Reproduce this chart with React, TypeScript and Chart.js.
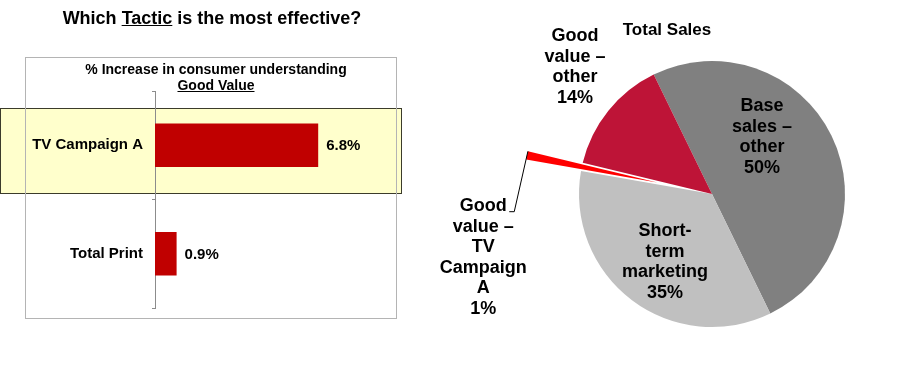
import React, { useEffect, useRef } from "react";
import { Chart, registerables } from "chart.js";
Chart.register(...registerables);

const FONT = "'Liberation Sans', Arial, Helvetica, sans-serif";

// ---- Left chart data ----
const barCategories = ["TV Campaign A", "Total Print"];
const barValues = [6.8, 0.9];
const barAxisMax = 10;
const barColor = "#C00000";

// ---- Right chart data ----
const pieCategories = ["Base sales – other", "Short-term marketing", "Good value – TV Campaign A", "Good value – other"];
const pieValues = [50, 35, 1, 14];
const pieLabelLines = [
  ["Base", "sales –", "other"],
  ["Short-", "term", "marketing"],
  ["Good", "value –", "TV", "Campaign", "A"],
  ["Good", "value –", "other"],
];
const pieColors = ["#808080", "#C0C0C0", "#FF0000", "#BE1437"];
const pieExplode = [0, 0, 56, 0];
// label anchors relative to pie centre, in units of the radius
const pieLabelAnchors = [
  { dx: 0.376, dy: -0.43 },
  { dx: -0.353, dy: 0.511 },
  { dx: -1.72, dy: 0.477 },
  { dx: -1.03, dy: -0.955 },
];
const leaderIndex = 2;

const barDecor = {
  id: "barDecor",
  beforeDraw(chart: any) {
    const { ctx, chartArea, scales } = chart;
    const y = scales.y;
    const c = y.getPixelForValue(0);
    const catH = y.getPixelForValue(1) - c;
    const top = Math.round(c - 0.34 * catH) + 0.5;
    const bot = Math.round(c + 0.44 * catH) + 0.5;
    ctx.save();
    ctx.fillStyle = "#FFFFCC";
    ctx.fillRect(0.5, top, chartArea.right + 6, bot - top);
    ctx.strokeStyle = "#3b3b2b";
    ctx.lineWidth = 1;
    ctx.strokeRect(0.5, top, chartArea.right + 6, bot - top);
    ctx.restore();
  },
  afterDatasetsDraw(chart: any) {
    const { ctx } = chart;
    const meta = chart.getDatasetMeta(0);
    ctx.save();
    ctx.fillStyle = "#000";
    ctx.font = `bold 15px ${FONT}`;
    ctx.textAlign = "left";
    ctx.textBaseline = "middle";
    meta.data.forEach((bar: any, i: number) => {
      ctx.fillText(`${barValues[i].toFixed(1)}%`, bar.x + 8, bar.y + 1);
    });
    ctx.restore();
  },
};

const pieDecor = {
  id: "pieDecor",
  beforeDatasetsDraw(chart: any) {
    const meta = chart.getDatasetMeta(0);
    meta.data.forEach((arc: any, i: number) => {
      const ex = pieExplode[i];
      if (!ex || arc.__exploded) return;
      const orig = arc.draw.bind(arc);
      arc.draw = (ctx: CanvasRenderingContext2D, area: any) => {
        const mid = (arc.startAngle + arc.endAngle) / 2;
        ctx.save();
        ctx.translate(Math.cos(mid) * ex, Math.sin(mid) * ex);
        orig(ctx, area);
        ctx.restore();
      };
      arc.__exploded = true;
    });
  },
  afterDatasetsDraw(chart: any) {
    const { ctx } = chart;
    const meta = chart.getDatasetMeta(0);
    const total = pieValues.reduce((a, b) => a + b, 0);
    const lh = 20.5;
    ctx.save();
    ctx.fillStyle = "#000";
    ctx.font = `bold 18px ${FONT}`;
    ctx.textAlign = "center";
    ctx.textBaseline = "middle";
    meta.data.forEach((arc: any, i: number) => {
      const R = arc.outerRadius;
      const lx = arc.x + pieLabelAnchors[i].dx * R;
      const ly = arc.y + pieLabelAnchors[i].dy * R;
      const lines = [...pieLabelLines[i], `${Math.round((pieValues[i] / total) * 100)}%`];
      const firstY = ly - ((lines.length - 1) / 2) * lh;
      lines.forEach((t, k) => ctx.fillText(t, lx, firstY + k * lh));
      if (i === leaderIndex) {
        const ex = pieExplode[i];
        const mid = (arc.startAngle + arc.endAngle) / 2;
        const tx = arc.x + Math.cos(mid) * ex + Math.cos(arc.endAngle) * R;
        const ty = arc.y + Math.sin(mid) * ex + Math.sin(arc.endAngle) * R;
        ctx.strokeStyle = "#000";
        ctx.lineWidth = 1;
        ctx.beginPath();
        ctx.moveTo(tx, ty);
        ctx.lineTo(lx + 31, firstY + 5.5);
        ctx.lineTo(lx + 26, firstY + 5.5);
        ctx.stroke();
      }
    });
    ctx.restore();
  },
};

export default function App() {
  const barRef = useRef<HTMLCanvasElement>(null);
  const pieRef = useRef<HTMLCanvasElement>(null);

  useEffect(() => {
    document.body.style.margin = "0";
    const bar = new Chart(barRef.current as HTMLCanvasElement, {
      type: "bar",
      data: {
        labels: barCategories,
        datasets: [
          {
            data: barValues,
            backgroundColor: barColor,
            categoryPercentage: 0.8,
            barPercentage: 0.5,
          },
        ],
      },
      options: {
        indexAxis: "y",
        responsive: false,
        animation: false,
        events: [],
        layout: { padding: { top: 91, bottom: 71, right: 15, left: 0 } },
        plugins: { legend: { display: false }, tooltip: { enabled: false }, title: { display: false } },
        scales: {
          x: { display: false, min: 0, max: barAxisMax },
          y: {
            afterFit: (s: any) => {
              s.width = 155;
            },
            border: { display: true, color: "#8c8c8c", width: 1 },
            grid: { display: true, drawOnChartArea: false, drawTicks: true, tickLength: 3, offset: true, color: "#8c8c8c" },
            ticks: { color: "#000", padding: 9, font: { family: FONT, size: 15, weight: "bold" } },
          },
        },
      } as any,
      plugins: [barDecor],
    });

    const pie = new Chart(pieRef.current as HTMLCanvasElement, {
      type: "pie",
      data: {
        labels: pieCategories,
        datasets: [
          {
            data: pieValues,
            backgroundColor: pieColors,
            borderWidth: 0,
          },
        ],
      },
      options: {
        responsive: false,
        animation: false,
        events: [],
        rotation: -26,
        radius: 133,
        layout: { padding: { left: 114, right: 0, top: 9, bottom: 0 } },
        plugins: { legend: { display: false }, tooltip: { enabled: false }, title: { display: false } },
      } as any,
      plugins: [pieDecor],
    });

    return () => {
      bar.destroy();
      pie.destroy();
    };
  }, []);

  return (
    <div style={{ position: "fixed", left: 0, top: 0, width: 900, height: 379, background: "#fff", overflow: "hidden", fontFamily: FONT }}>
      <canvas ref={barRef} width={410} height={379} style={{ position: "absolute", left: 0, top: 0, width: 410, height: 379 }} />
      <canvas ref={pieRef} width={490} height={379} style={{ position: "absolute", left: 410, top: 0, width: 490, height: 379 }} />
      <div style={{ position: "absolute", left: 25, top: 57, width: 372, height: 262, boxSizing: "border-box", border: "1px solid #b4b4b4", pointerEvents: "none" }} />
      <div style={{ position: "absolute", left: 0, top: 8, width: 424, textAlign: "center", fontWeight: "bold", fontSize: 18, lineHeight: "20px", color: "#000" }}>
        Which <u>Tactic</u> is the most effective?
      </div>
      <div style={{ position: "absolute", left: 16, top: 61, width: 400, textAlign: "center", fontWeight: "bold", fontSize: 14, lineHeight: "16px", color: "#000" }}>
        % Increase in consumer understanding
        <br />
        <u>Good Value</u>
      </div>
      <div style={{ position: "absolute", left: 567, top: 20, width: 200, textAlign: "center", fontWeight: "bold", fontSize: 17, lineHeight: "20px", color: "#000" }}>
        Total Sales
      </div>
    </div>
  );
}
